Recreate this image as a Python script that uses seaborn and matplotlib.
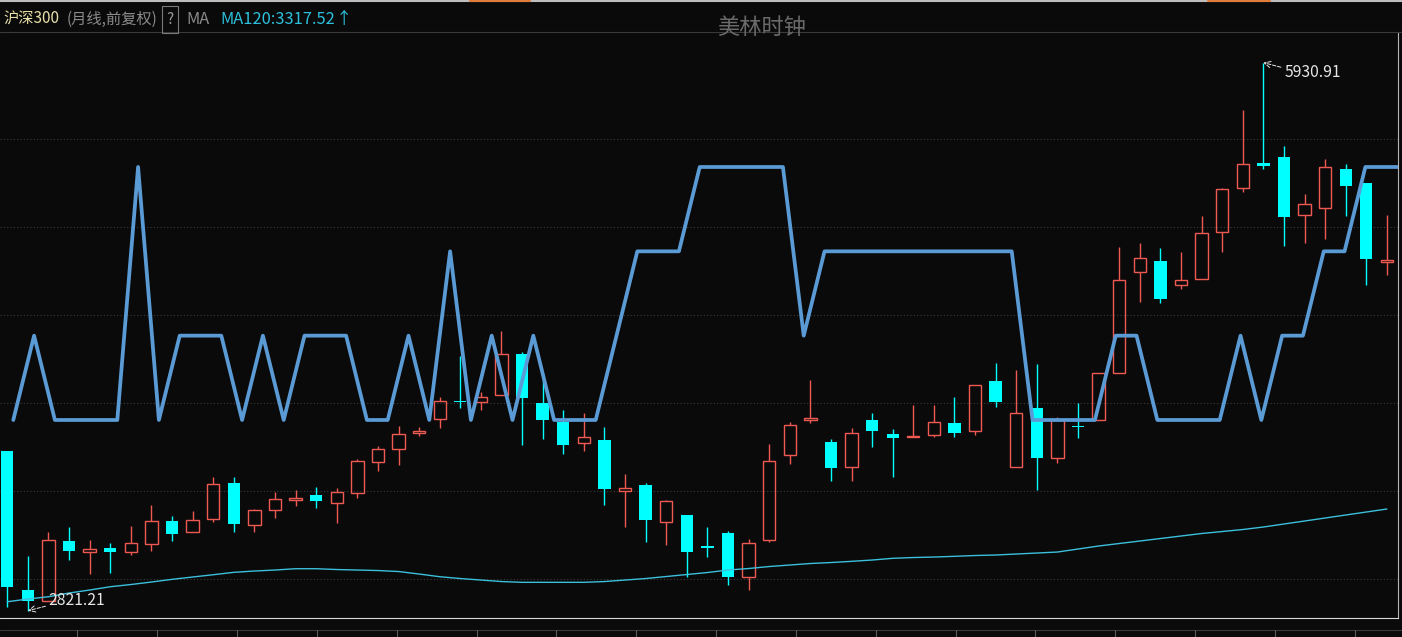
import numpy as np
import pandas as pd
import matplotlib
matplotlib.use("Agg")
import matplotlib.pyplot as plt
from matplotlib.lines import Line2D
import seaborn as sns

# 沪深300 monthly candles (前复权), one per month
opens = [3727, 2939, 2878, 3217, 3156, 3177, 3156, 3198, 3328.5, 3266,
         3340, 3546, 3309, 3391, 3451, 3478, 3431, 3487, 3667, 3737,
         3828, 3911, 4011, 4005.5, 4047, 4278, 4000, 3894, 3771, 3790,
         3501, 3535, 3323, 3363, 3188, 3262, 3014, 3224, 3703, 3902,
         3777, 3638, 3903, 3822, 3805, 3820, 3886, 3839, 4125, 3638,
         3970, 3686, 3871, 3903, 4172, 4742, 4806, 4668, 4704, 4969,
         5218, 5360, 5394, 5065, 5105, 5328, 5247, 4800]
closes = [2956, 2878, 3221, 3162, 3170, 3154, 3204, 3328.5, 3258, 3334,
          3538.5, 3313, 3391, 3453, 3461, 3445, 3493, 3669, 3737, 3822,
          3841, 4011, 4005.5, 4032, 4278, 4030, 3905, 3763, 3805, 3514,
          3516, 3336, 3442, 3156, 3177, 3014, 3205, 3669, 3873, 3913,
          3633, 3828, 3843, 3803, 3814, 3890, 3831, 4100, 4005.5, 3941,
          3689, 3903, 3865, 4168, 4698, 4821, 4592, 4698, 4963, 5213,
          5354, 5346, 5057, 5127, 5339, 5233, 4819, 4811]
highs = [3728, 3131.6, 3266.1, 3296.2, 3222.4, 3203.7, 3301.9, 3419.3, 3358.6, 3387.0,
         3581.6, 3578.2, 3396.6, 3494.8, 3506.1, 3524.9, 3515.8, 3680.4, 3755.8, 3869.3,
         3865.3, 4035.6, 4266.5, 4064.0, 4408.4, 4287.5, 4141.7, 3960.1, 3944.8, 3863.6,
         3596.9, 3544.2, 3449.4, 3362.6, 3296.2, 3271.7, 3228.1, 3767.2, 3893.7, 4130.4,
         3793.8, 3858.0, 3944.8, 3850.6, 3988.5, 3988.5, 4032.2, 4100.3, 4228.5, 4187.1,
         4221.1, 3922.1, 4001.5, 4171.7, 4886.8, 4909.5, 4877.7, 4858.4, 5061.0, 5218.2,
         5662.5, 5930.91, 5458.2, 5185.8, 5384.4, 5356.1, 5246.5, 5066.7]
lows = [2842.2, 2821.21, 2876.3, 3108.9, 3029.5, 3036.9, 3137.3, 3161.7, 3216.7, 3266.1,
        3326.3, 3269.5, 3269.5, 3349.0, 3417.0, 3405.7, 3317.2, 3462.4, 3615.7, 3648.0,
        3814.3, 3859.7, 3969.7, 3960.1, 4046.9, 3761.5, 3797.3, 3712.1, 3729.2, 3422.7,
        3297.9, 3212.8, 3194.0, 3014.2, 3125.9, 2968.7, 2938.7, 3212.8, 3655.4, 3884.6,
        3558.9, 3558.9, 3751.8, 3581.6, 3805.2, 3808.6, 3808.6, 3816.5, 3978.8, 3638.4,
        3506.1, 3657.7, 3802.9, 3903.4, 4168.4, 4574.7, 4565.6, 4645.0, 4703.5, 4858.4,
        5198.9, 5326.0, 4890.8, 4909.5, 4932.2, 5062.7, 4669.4, 4726.2]
ma120 = [2872.3, 2887.6, 2900.7, 2921.7, 2938.7, 2957.4, 2969.9, 2984.1, 2999.4, 3012.5,
         3025.5, 3039.1, 3046.5, 3052.2, 3059.6, 3059.6, 3055.0, 3052.2, 3049.3, 3043.7,
         3029.5, 3014.2, 3003.9, 2995.4, 2986.9, 2982.4, 2982.4, 2982.4, 2982.4, 2986.9,
         2995.4, 3003.9, 3015.3, 3026.6, 3038.0, 3052.2, 3060.7, 3072.0, 3080.6, 3089.1,
         3094.7, 3101.5, 3108.9, 3118.6, 3123.1, 3125.9, 3129.9, 3134.5, 3137.3, 3143.0,
         3148.6, 3154.3, 3171.3, 3188.4, 3202.6, 3216.7, 3230.9, 3245.1, 3259.3, 3270.6,
         3282.0, 3296.2, 3313.2, 3330.2, 3347.3, 3364.3, 3381.3, 3398.3]
# 美林时钟 phase (1-4)
clock = [1, 2, 1, 1, 1, 1, 4, 1, 2, 2,
         2, 1, 2, 1, 2, 2, 2, 1, 1, 2,
         1, 3, 1, 2, 1, 2, 1, 1, 1, 2,
         3, 3, 3, 4, 4, 4, 4, 4, 2, 3,
         3, 3, 3, 3, 3, 3, 3, 3, 3, 1,
         1, 1, 1, 2, 2, 1, 1, 1, 1, 2,
         1, 2, 2, 3, 3, 4, 4, 4]
grid_levels = [3000, 3500, 4000, 4500, 5000, 5500]

W, H = 1402, 637
BG = "#0a0a0a"
RED = "#ee5a52"
CYAN = "#00ffff"

sns.set_style("dark", rc={"axes.facecolor": BG, "figure.facecolor": BG})
plt.rcParams["font.family"] = ["Noto Sans CJK SC", "DejaVu Sans"]

df = pd.DataFrame({"open": opens, "close": closes, "high": highs, "low": lows, "ma": ma120})
df["idx"] = np.arange(len(df))
up = df[df.close >= df.open]
down = df[df.close < df.open]

fig = plt.figure(figsize=(W / 100, H / 100), dpi=100)
rect = [0, 19 / H, 1398 / W, (618 - 33) / H]
ax = fig.add_axes(rect)
ax.set_facecolor(BG)

# grid
ax.set_yticks(grid_levels)
ax.yaxis.grid(True, color="#3c3c3c", linestyle=(0, (1, 2)), lw=0.8)
ax.xaxis.grid(False)
ax.set_axisbelow(True)

# falling candles: filled cyan
ax.vlines(down.idx, down.low, down.high, color=CYAN, lw=1)
ax.bar(down.idx, down.open - down.close, bottom=down.close, width=0.6, color=CYAN, lw=0)
# rising candles: hollow red
ax.vlines(up.idx, up.close, up.high, color=RED, lw=1)
ax.vlines(up.idx, up.low, up.open, color=RED, lw=1)
ax.bar(up.idx, (up.close - up.open).clip(lower=1), bottom=up.open, width=0.6,
       fill=False, edgecolor=RED, lw=1)

sns.lineplot(x=df.idx, y=df.ma, ax=ax, color="#3cbfdc", lw=1.0, legend=False)

ax.set_xlim(-0.355, 67.54)
ax.set_ylim(2780, 6099)
ax.tick_params(left=False, bottom=False, labelleft=False, labelbottom=False)
ax.set_xlabel("")
ax.set_ylabel("")
for side in ["left", "top"]:
    ax.spines[side].set_visible(False)
ax.spines["bottom"].set_color("#d8d8d8")
ax.spines["right"].set_color("#b4b4b4")

# high / low markers
hi_i = int(np.argmax(highs))
lo_i = int(np.argmin(lows))
ax.annotate(f"{highs[hi_i]:.2f}", xy=(hi_i, highs[hi_i]), xytext=(15, -7),
            textcoords="offset points", color="#e6e6e6", fontsize=11.3,
            ha="left", va="center",
            arrowprops=dict(arrowstyle="->", color="#e6e6e6", lw=0.7, ls="--",
                            shrinkA=0, shrinkB=0, relpos=(0, 0.75)))
ax.annotate(f"{lows[lo_i]:.2f}", xy=(lo_i, lows[lo_i]), xytext=(15, 7.5),
            textcoords="offset points", color="#e6e6e6", fontsize=11.3,
            ha="left", va="center",
            arrowprops=dict(arrowstyle="->", color="#e6e6e6", lw=0.7, ls="--",
                            shrinkA=0, shrinkB=0, relpos=(0, 0.2)))

# 美林时钟 overlay
ax2 = fig.add_axes(rect)
ax2.patch.set_visible(False)
sns.lineplot(x=np.arange(len(clock)), y=clock, ax=ax2, color="#5b9bd5", lw=2.7, legend=False)
ax2.set_xlim(-0.639, 66.57)
ax2.set_ylim(-1.348, 5.589)
ax2.axis("off")


def fig_line(x0, y0, x1, y1, color, lw):
    fig.add_artist(Line2D([x0 / W, x1 / W], [1 - y0 / H, 1 - y1 / H],
                          color=color, lw=lw, transform=fig.transFigure))


# frame decorations
fig_line(0, 1, W, 1, "#bdbdbd", 1.5)
fig_line(470, 1, 530, 1, "#e07b39", 1.5)
fig_line(1208, 1, 1270, 1, "#e07b39", 1.5)
fig_line(0, 32, W, 32, "#3a3a3a", 0.8)
fig_line(0, 630, W, 630, "#3a3a3a", 0.8)
for tx in np.arange(77.3, W, 79.85):
    fig_line(tx, 630, tx, 637, "#5a5a5a", 0.8)

# header
ty = 1 - 19.5 / H
fig.text(3 / W, ty, "沪深300", color="#e8dfa8", fontsize=11, va="center")
fig.text(67 / W, ty, "(月线,前复权)", color="#8a8a8a", fontsize=11, va="center")
fig.text(170 / W, ty, "?", color="#9a9a9a", fontsize=11, va="center", ha="center",
         bbox=dict(boxstyle="square,pad=0.3", fc="none", ec="#7a7a7a", lw=0.8))
fig.text(186 / W, ty, "MA", color="#8a8a8a", fontsize=11.8, va="center")
fig.text(220 / W, ty, "MA120:3317.52", color="#2cc0dc", fontsize=11.8, va="center")
fig.text(336 / W, ty, "↑", color="#2cc0dc", fontsize=11.8, va="center")
fig.text(762 / W, 1 - 27 / H, "美林时钟", color="#6a6a6a", fontsize=16,
         va="center", ha="center")

fig.savefig("out.png", dpi=100, facecolor=BG)
